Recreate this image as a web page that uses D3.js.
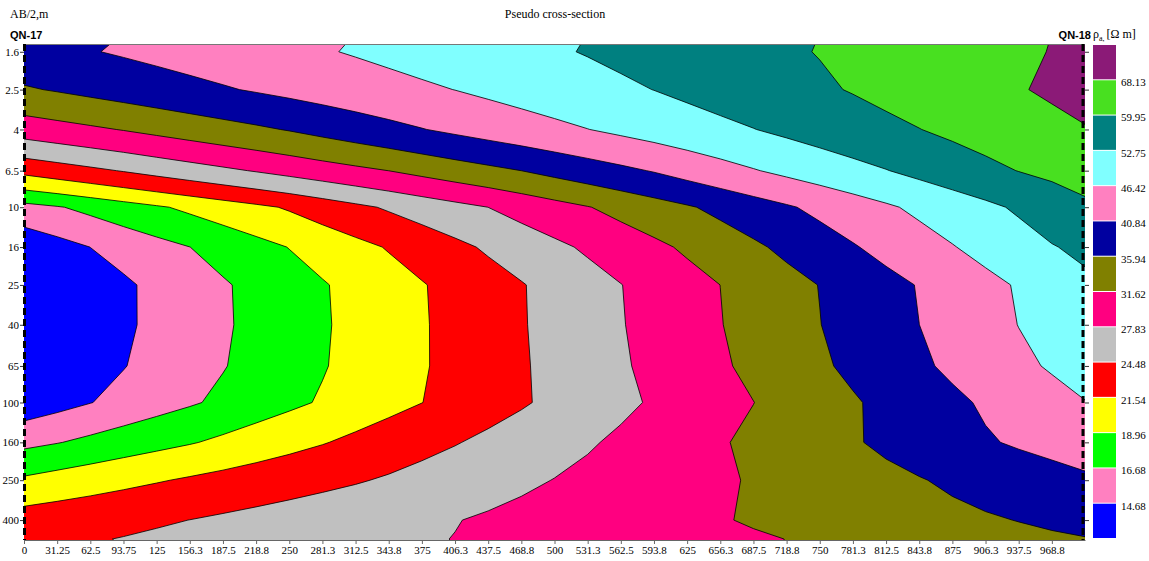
<!DOCTYPE html>
<html>
<head>
<meta charset="utf-8">
<title>Pseudo cross-section</title>
<script src="https://cdn.jsdelivr.net/npm/d3@7"></script>
<style>
  body { margin: 0; background: #fff; }
  svg text { font-family: "Liberation Serif", "Times New Roman", serif; fill: #000; }
  .station-name { font-family: "Liberation Sans", Arial, sans-serif; font-weight: bold; font-size: 11px; }
</style>
</head>
<body>
<div id="chart"></div>
<script>
// measuring points along the profile (m) and AB/2 spacings (m)
const stations = [0, 31.25, 62.5, 93.75, 125, 156.25, 187.5, 218.75, 250, 281.25, 312.5, 343.75,
  375, 406.25, 437.5, 468.75, 500, 531.25, 562.5, 593.75, 625, 656.25, 687.5, 718.75, 750,
  781.25, 812.5, 843.75, 875, 906.25, 937.5, 968.75, 1000];
const xTickLabels = ["0", "31.25", "62.5", "93.75", "125", "156.3", "187.5", "218.8", "250", "281.3",
  "312.5", "343.8", "375", "406.3", "437.5", "468.8", "500", "531.3", "562.5", "593.8", "625",
  "656.3", "687.5", "718.8", "750", "781.3", "812.5", "843.8", "875", "906.3", "937.5", "968.8"];
const depthTicks = [1.6, 2.5, 4, 6.5, 10, 16, 25, 40, 65, 100, 160, 250, 400];
const depthLabels = ["1.6", "2.5", "4", "6.5", "10", "16", "25", "40", "65", "100", "160", "250", "400"];
const depths = [1.6, 2.5, 4, 6.5, 10, 16, 25, 40, 65, 100, 160, 250, 400, 500];

// legend class limits (Ohm.m) and fill of each class, lowest first
const thresholds = [14.68, 16.68, 18.96, 21.54, 24.48, 27.83, 31.62, 35.94, 40.84, 46.42, 52.75, 59.95, 68.13];
const bandColors = ["#0000ff", "#ff80c0", "#00ff00", "#ffff00", "#ff0000", "#c0c0c0", "#ff0080",
  "#808000", "#0000a0", "#ff80c0", "#80ffff", "#008080", "#48e020", "#8b1a77"];

// apparent resistivity, one row per AB/2, one value per station
const rho = [
  [39.24, 39.92, 40.60, 41.35, 42.12, 42.90, 43.67, 44.46, 45.23, 46.01, 46.84, 47.72, 48.61, 49.50, 50.38, 51.26, 52.15, 53.07, 54.09, 55.10, 56.11, 57.13, 58.14, 59.15, 60.20, 61.35, 62.51, 63.67, 64.83, 65.99, 67.15, 68.33, 69.65], // 1.6
  [35.50, 36.27, 37.10, 37.93, 38.76, 39.59, 40.42, 41.26, 42.13, 43.00, 43.87, 44.73, 45.61, 46.48, 47.54, 48.59, 49.65, 50.71, 51.76, 52.82, 54.07, 55.31, 56.55, 57.80, 59.04, 60.34, 61.80, 63.26, 64.72, 66.18, 67.64, 69.24, 70.91], // 2.5
  [29.50, 30.26, 31.01, 31.79, 32.66, 33.53, 34.40, 35.26, 36.19, 37.31, 38.43, 39.55, 40.67, 41.81, 42.94, 44.07, 45.20, 46.34, 47.59, 48.85, 50.11, 51.38, 52.62, 54.05, 55.50, 56.94, 58.39, 59.83, 61.41, 62.98, 64.56, 66.14, 67.72], // 4
  [22.28, 23.06, 23.85, 24.65, 25.50, 26.34, 27.19, 28.05, 28.94, 29.84, 30.74, 31.64, 32.72, 33.80, 34.87, 35.95, 37.23, 38.51, 39.79, 41.14, 42.79, 44.44, 46.09, 47.71, 49.33, 50.94, 52.55, 54.43, 56.34, 58.25, 60.11, 61.59, 63.06], // 6.5
  [15.98, 16.53, 17.21, 17.94, 18.67, 19.43, 20.20, 20.98, 21.82, 22.82, 23.83, 24.83, 25.83, 26.84, 27.84, 29.05, 30.26, 31.46, 32.80, 34.14, 35.50, 37.03, 38.66, 40.29, 42.03, 43.85, 45.66, 47.55, 49.50, 51.45, 53.59, 56.12, 58.65], // 10
  [13.37, 14.03, 14.69, 15.35, 16.01, 16.67, 17.45, 18.23, 19.02, 19.91, 20.80, 21.72, 22.75, 23.79, 24.87, 26.00, 27.13, 28.31, 29.57, 30.82, 32.18, 33.70, 35.23, 36.89, 38.67, 40.46, 42.35, 44.25, 46.15, 48.23, 50.33, 52.43, 54.05], // 16
  [12.32, 13.01, 13.70, 14.40, 15.09, 15.78, 16.47, 17.22, 18.00, 18.78, 19.63, 20.51, 21.38, 22.35, 23.33, 24.31, 25.44, 26.60, 27.76, 29.05, 30.34, 31.63, 33.10, 34.56, 36.04, 37.71, 39.38, 41.09, 43.00, 44.91, 46.91, 49.23, 51.55], // 25
  [12.37, 13.05, 13.72, 14.40, 15.08, 15.76, 16.44, 17.17, 17.95, 18.72, 19.57, 20.44, 21.32, 22.28, 23.28, 24.27, 25.38, 26.52, 27.65, 28.91, 30.20, 31.49, 32.93, 34.40, 35.86, 37.51, 39.17, 40.83, 42.73, 44.62, 46.50, 48.14, 49.77], // 40
  [12.64, 13.30, 13.95, 14.61, 15.26, 15.92, 16.58, 17.31, 18.06, 18.81, 19.63, 20.48, 21.32, 22.26, 23.22, 24.19, 25.24, 26.34, 27.44, 28.63, 29.87, 31.12, 32.46, 33.88, 35.30, 36.82, 38.42, 40.03, 41.75, 43.58, 45.41, 46.91, 48.00], // 65
  [13.43, 14.03, 14.63, 15.23, 15.84, 16.44, 17.09, 17.78, 18.47, 19.18, 19.96, 20.73, 21.51, 22.39, 23.27, 24.16, 25.13, 26.13, 27.14, 28.19, 29.34, 30.48, 31.58, 32.92, 34.22, 35.52, 36.94, 38.42, 39.89, 41.44, 43.13, 44.81, 46.31], // 100
  [16.12, 16.59, 17.13, 17.69, 18.24, 18.79, 19.41, 20.07, 20.73, 21.39, 22.11, 22.85, 23.59, 24.32, 25.11, 25.90, 26.69, 27.49, 28.39, 29.36, 30.34, 31.31, 32.35, 33.42, 34.48, 35.56, 36.72, 37.94, 39.16, 40.39, 41.39, 42.26, 43.13], // 160
  [19.30, 19.81, 20.31, 20.83, 21.34, 21.83, 22.31, 22.80, 23.28, 23.76, 24.24, 24.79, 25.42, 26.04, 26.66, 27.28, 27.90, 28.56, 29.22, 29.88, 30.54, 31.19, 31.89, 32.65, 33.42, 34.19, 34.95, 35.72, 36.57, 37.45, 38.34, 39.22, 40.11], // 250
  [22.72, 23.07, 23.43, 23.79, 24.14, 24.50, 24.91, 25.31, 25.71, 26.11, 26.52, 26.93, 27.33, 27.73, 28.18, 28.64, 29.11, 29.57, 30.03, 30.49, 30.96, 31.42, 31.91, 32.43, 32.95, 33.46, 33.98, 34.50, 35.02, 35.53, 36.04, 36.50, 36.97], // 400
  [23.70, 23.99, 24.28, 24.58, 24.92, 25.24, 25.57, 25.90, 26.23, 26.56, 26.89, 27.22, 27.55, 27.89, 28.26, 28.64, 29.01, 29.39, 29.76, 30.14, 30.51, 30.89, 31.27, 31.65, 32.12, 32.60, 33.08, 33.56, 34.04, 34.52, 35.00, 35.48, 35.80]  // 500
];

const width = 1149, height = 561;
const serif = "'Liberation Serif', 'Times New Roman', serif";

const x = d3.scaleLinear().domain([0, 1000]).range([24, 1085]);
const y = d3.scaleLog().domain([1.46, 506]).range([44, 540]);
const [plotTop, plotBottom] = y.range();

const svg = d3.select("#chart")
  .append("svg")
  .attr("width", width)
  .attr("height", height);

// contour grid coords -> page: sample i sits at i + 0.5
function along(arr, scale, g) {
  const d = g - 0.5;
  const i = Math.max(0, Math.min(arr.length - 2, Math.floor(d)));
  const a = scale(arr[i]), b = scale(arr[i + 1]);
  return a + (d - i) * (b - a);
}

const gridProjection = d3.geoTransform({
  point: function(gx, gy) {
    this.stream.point(along(stations, x, gx), along(depths, y, gy));
  }
});
const path = d3.geoPath(gridProjection);

const contours = d3.contours()
  .size([stations.length, depths.length])
  .thresholds(thresholds)(rho.flat());

svg.append("clipPath")
  .attr("id", "plot-clip")
  .append("rect")
  .attr("x", x(0))
  .attr("y", plotTop)
  .attr("width", x(1000) - x(0))
  .attr("height", plotBottom - plotTop);

const plot = svg.append("g").attr("clip-path", "url(#plot-clip)");

plot.append("rect")
  .attr("x", x(0))
  .attr("y", plotTop)
  .attr("width", x(1000) - x(0))
  .attr("height", plotBottom - plotTop)
  .attr("fill", bandColors[0]);

plot.selectAll("path.band")
  .data(contours)
  .join("path")
  .attr("class", "band")
  .attr("d", path)
  .attr("fill", (d, i) => bandColors[i + 1])
  .attr("stroke", "#000")
  .attr("stroke-width", 0.8)
  .attr("stroke-linejoin", "round");

// frame top
svg.append("line")
  .attr("x1", x(0)).attr("x2", x(1000))
  .attr("y1", plotTop + 0.5).attr("y2", plotTop + 0.5)
  .attr("stroke", "#777");

// x axis
const xAxis = svg.append("g")
  .attr("transform", `translate(0,${plotBottom})`)
  .call(d3.axisBottom(x)
    .tickValues(stations.slice(0, xTickLabels.length))
    .tickFormat((d, i) => xTickLabels[i])
    .tickSize(4)
    .tickSizeOuter(0)
    .tickPadding(2));
xAxis.attr("font-family", serif).attr("font-size", 11);
xAxis.select(".domain").attr("stroke", "#666");
xAxis.selectAll(".tick line").attr("stroke", "#666");

// depth axis, left and right
const yAxis = svg.append("g")
  .attr("transform", `translate(${x(0)},0)`)
  .call(d3.axisLeft(y)
    .tickValues(depthTicks)
    .tickFormat((d, i) => depthLabels[i])
    .tickSize(4)
    .tickPadding(1));
yAxis.attr("font-family", serif).attr("font-size", 11);
yAxis.select(".domain").remove();
yAxis.selectAll(".tick line").attr("stroke", "#333");

const yAxisRight = svg.append("g")
  .attr("transform", `translate(${x(1000)},0)`)
  .call(d3.axisRight(y).tickValues(depthTicks).tickFormat("").tickSize(4));
yAxisRight.select(".domain").remove();
yAxisRight.selectAll(".tick line").attr("stroke", "#333");

// station markers at both ends of the profile
[0, 1000].forEach(s => {
  svg.append("line")
    .attr("x1", s === 0 ? x(s) + 0.5 : x(s) - 2)
    .attr("x2", s === 0 ? x(s) + 0.5 : x(s) - 2)
    .attr("y1", plotTop)
    .attr("y2", plotBottom)
    .attr("stroke", "#000")
    .attr("stroke-width", 3)
    .attr("stroke-dasharray", "7,4");
});

svg.append("text")
  .attr("class", "station-name")
  .attr("x", 10).attr("y", 39)
  .text("QN-17");

svg.append("text")
  .attr("class", "station-name")
  .attr("x", 1091).attr("y", 39)
  .attr("text-anchor", "end")
  .text("QN-18");

svg.append("text")
  .attr("x", 10).attr("y", 18)
  .attr("font-size", 12)
  .text("AB/2,m");

svg.append("text")
  .attr("x", 555).attr("y", 18)
  .attr("text-anchor", "middle")
  .attr("font-size", 12)
  .text("Pseudo cross-section");

// legend
const legendY = d3.scaleLinear().domain([0, bandColors.length]).range([45, 539]);
const legend = svg.append("g");

legend.selectAll("rect")
  .data(bandColors.slice().reverse())
  .join("rect")
  .attr("x", 1093)
  .attr("width", 23)
  .attr("y", (d, i) => legendY(i))
  .attr("height", (d, i) => legendY(i + 1) - legendY(i) - 1)
  .attr("fill", d => d);

legend.selectAll("text")
  .data(thresholds.slice().reverse())
  .join("text")
  .attr("x", 1121)
  .attr("y", (d, i) => legendY(i + 1) + 2)
  .attr("dy", "0.35em")
  .attr("font-size", 11)
  .text(d => d.toFixed(2));

const unit = legend.append("text")
  .attr("x", 1093).attr("y", 38)
  .attr("font-size", 12);
unit.append("tspan").text("ρ");
unit.append("tspan").attr("font-size", 8).attr("dy", 3).text("a,");
unit.append("tspan").attr("dy", -3).attr("dx", 2).text("[Ω m]");
</script>
</body>
</html>
